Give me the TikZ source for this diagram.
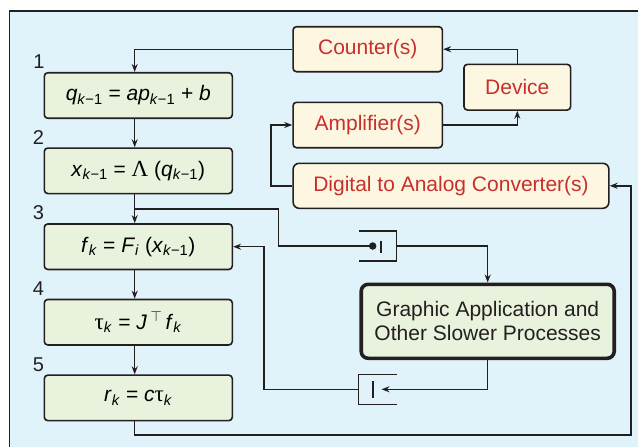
\documentclass[tikz,border=0pt]{standalone}
\usepackage{fontspec}
\setmainfont{Liberation Sans}
\newfontfamily\serifgr{Liberation Serif}
\usetikzlibrary{arrows.meta}
\definecolor{bgblue}{HTML}{E0F3FB}
\definecolor{greenfill}{HTML}{E8F2DC}
\definecolor{yellowfill}{HTML}{FDF7E1}
\definecolor{redtext}{HTML}{C8302C}
\definecolor{ink}{HTML}{231F20}
\newcommand{\km}{\textsubscript{\textit{k}−1}}
\newcommand{\kk}{\textsubscript{\textit{k}}}
\tikzset{
  box/.style={draw=ink, line width=1.6pt, rounded corners=3.5pt, inner sep=0pt, font=\fontsize{21}{24}\selectfont},
  greenbox/.style={box, fill=greenfill, minimum width=188pt, minimum height=45.5pt},
  yellowbox/.style={box, fill=yellowfill, text=redtext, minimum height=45pt},
  conn/.style={draw=ink, line width=1.4pt},
  arr/.style={conn, -{Stealth[length=8pt,width=6pt]}},
  stepnum/.style={font=\fontsize{20}{24}\selectfont, text=ink, inner sep=0pt},
}
\begin{document}
\begin{tikzpicture}[x=1pt,y=-1pt]
\useasboundingbox (0,0) rectangle (638,447);
\clip (0,0) rectangle (638,447);
\draw[ink, line width=1.3pt, fill=bgblue] (9.5,11) rectangle (660,470);
\coordinate (colx) at (134.7,0);
% left chain
\node[greenbox] (b1) at (138.3,95.5) {\textit{q}\km{} = \textit{ap}\km{} + \textit{b}};
\node[greenbox] (b2) at (138.3,170.8) {\textit{x}\km{} = {\serifgr\fontsize{23}{24}\selectfont Λ} (\textit{q}\km)};
\node[greenbox] (b3) at (138.3,246.7) {\textit{f}\kk{} = \textit{F}\textsubscript{\textit{i}} (\textit{x}\km)};
\node[greenbox] (b4) at (138.3,322.2) {{\serifgr\fontsize{23}{24}\selectfont τ}\kk{} = \textit{J}\,$^{\top}$\,\textit{f}\kk};
\node[greenbox] (b5) at (138.3,397.9) {\textit{r}\kk{} = \textit{c}{\serifgr\fontsize{23}{24}\selectfont τ}\kk};
\node[stepnum] (n1) at (39,62) {1};
\node[stepnum] (n2) at (38.5,138) {2};
\node[stepnum] (n3) at (38.5,212.5) {3};
\node[stepnum] (n4) at (38.5,288.3) {4};
\node[stepnum] (n5) at (38.5,364.5) {5};
% right boxes
\node[yellowbox, minimum width=149.3pt] (cnt) at (367.7,49.2) {Counter(s)};
\node[yellowbox, minimum width=106.7pt, minimum height=45.7pt] (dev) at (517.3,87.2) {Device};
\node[yellowbox, minimum width=149.3pt, minimum height=45.4pt] (amp) at (367.7,125) {Amplifier(s)};
\node[yellowbox, minimum width=315.7pt, rounded corners=6pt] (dac) at (451,185.8) {Digital to Analog Converter(s)};
\node[box, fill=greenfill, line width=3.6pt, rounded corners=7pt, minimum width=253pt, minimum height=74pt, align=center, text=ink] (gfx) at (487.7,321.3) {Graphic Application and\\Other Slower Processes};
% vertical chain connectors
\draw[arr] (b1.south -| colx) -- (b2.north -| colx);
\draw[arr] (b2.south -| colx) -- (b3.north -| colx);
\draw[arr] (b3.south -| colx) -- (b4.north -| colx);
\draw[arr] (b4.south -| colx) -- (b5.north -| colx);
% device loop
\draw[arr] (cnt.west) -| (b1.north -| colx);
\draw[arr] (dev.north) |- (cnt.east);
\draw[arr] (amp.east) -| (dev.south);
\coordinate (dacturn) at (271,185.8);
\draw[arr] (dac.west) -- (dacturn) |- (amp.west);
\coordinate (c5) at (631,435);
\draw[arr] (b5.south -| colx) |- (c5) |- (dac.east);
% sample-hold 1
\coordinate (br) at (134.7,209);
\coordinate (k1) at (278.3,246);
\node[circle, fill=ink, inner sep=0pt, minimum size=7.5pt] (dot1) at (372.7,246) {};
\draw[conn] (br) -| (k1) -- (dot1.center);
\draw[conn, line width=1.7pt] (381,240.5) -- (381,252.7);
\draw[conn, line width=1.5pt] (359.3,231) -- (396.7,231) -- (396.7,261) -- (359.3,261);
\coordinate (sh1r) at (396.7,246);
\draw[arr] (sh1r) -| (gfx.north);
% sample-hold 2
\coordinate (tip2) at (381.5,389.3);
\draw[arr] (gfx.south) |- (tip2);
\draw[conn, line width=1.7pt] (373.3,381) -- (373.3,397.5);
\draw[conn, line width=1.5pt] (396.7,374.3) -- (358.3,374.3) -- (358.3,404.3) -- (396.7,404.3);
\coordinate (sh2l) at (358.3,389.3);
\coordinate (k2) at (264,389.3);
\draw[arr] (sh2l) -- (k2) |- (b3.east);
\end{tikzpicture}
\end{document}
